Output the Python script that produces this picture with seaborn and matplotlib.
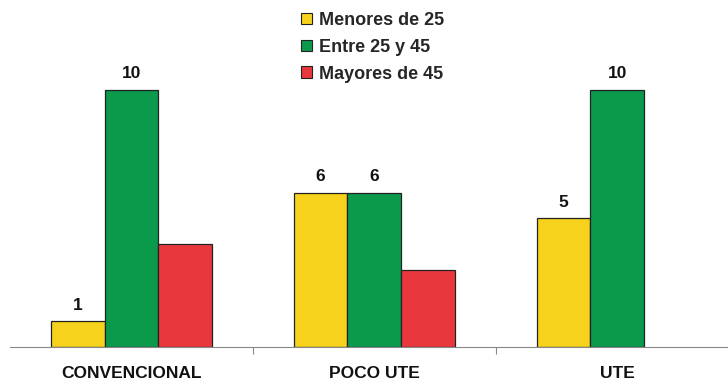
import numpy as np
import pandas as pd
import matplotlib
matplotlib.use("Agg")
import matplotlib.pyplot as plt
from matplotlib import font_manager
import seaborn as sns

categories = ["CONVENCIONAL", "POCO UTE", "UTE"]
series = ["Menores de 25", "Entre 25 y 45", "Mayores de 45"]
menores_25 = [1, 6, 5]
entre_25_45 = [10, 6, 10]
mayores_45 = [4, 3, np.nan]
# which series carry value labels above their bars
labelled = ["Menores de 25", "Entre 25 y 45"]

colors = ["#F6D21C", "#0B9A4C", "#E8383D"]

sns.set_theme(style="white")
names = {f.name for f in font_manager.fontManager.ttflist}
family = "Liberation Sans Narrow" if "Liberation Sans Narrow" in names else "Liberation Sans"
plt.rcParams["font.family"] = [family, "DejaVu Sans"]

df = pd.DataFrame({
    "categoria": categories * 3,
    "grupo": [s for s in series for _ in categories],
    "valor": menores_25 + entre_25_45 + mayores_45,
})

fig = plt.figure(figsize=(7.28, 3.86), dpi=100)
ax = fig.add_axes([10 / 728, 39 / 386, 718 / 728, 327 / 386])

sns.barplot(data=df, x="categoria", y="valor", hue="grupo",
            order=categories, hue_order=series, palette=colors,
            width=0.666, edgecolor="#222222", linewidth=0.9,
            saturation=1, errorbar=None, ax=ax, legend=True)

ax.set_xlim(-0.5, 2.455)
ax.set_ylim(0, 12.7)
ax.set_xlabel("")
ax.set_ylabel("")
ax.set_yticks([])
for side in ["top", "right", "left"]:
    ax.spines[side].set_visible(False)
ax.spines["bottom"].set_color("#888888")
ax.spines["bottom"].set_linewidth(0.8)

# category boundary ticks on the baseline
ax.set_xticks([0.5, 1.5], minor=True)
ax.tick_params(axis="x", which="minor", length=5, width=0.8, color="#888888",
               direction="out", bottom=True)
ax.tick_params(axis="x", which="major", length=0, pad=14)
for lbl in ax.get_xticklabels():
    lbl.set_fontsize(12.5)
    lbl.set_fontweight("bold")
    lbl.set_color("#111111")

for container, name in zip(ax.containers, series):
    if name in labelled:
        ax.bar_label(container, fmt="%g", padding=6, fontsize=12.5,
                     fontweight="bold", color="#111111")

handles, labels = ax.get_legend_handles_labels()
leg = ax.legend(handles, labels, loc="upper center", bbox_to_anchor=(0.505, 1.075),
                frameon=False, handlelength=0.6, handleheight=0.6,
                handletextpad=0.35, labelspacing=0.55, prop={"weight": "bold", "size": 13})
for h in leg.legend_handles:
    h.set_edgecolor("#222222")
    h.set_linewidth(0.8)

fig.savefig("out.png", dpi=100, facecolor="white")
